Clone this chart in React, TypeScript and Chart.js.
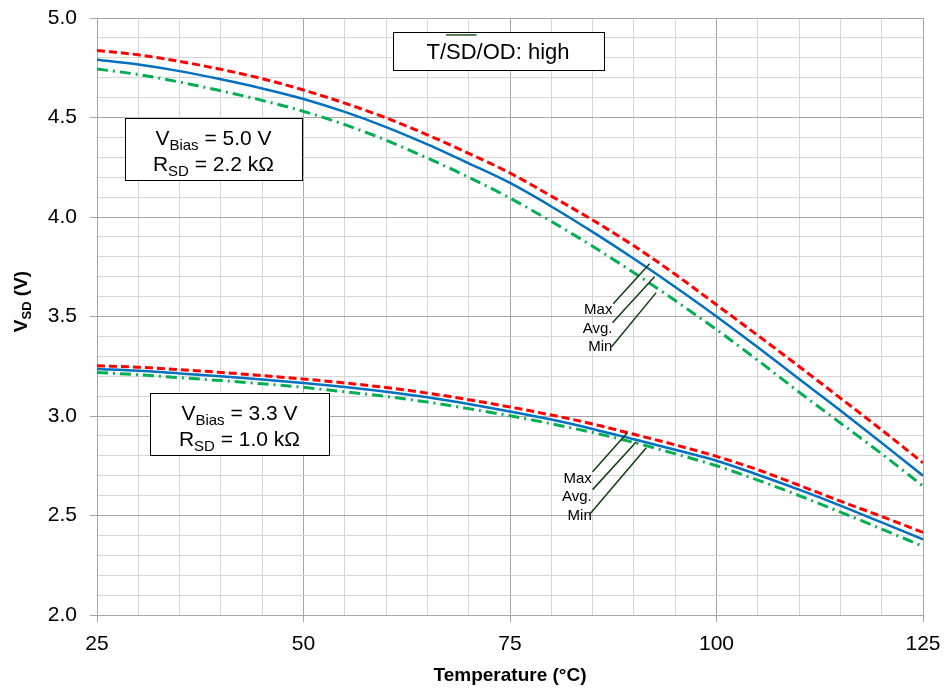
import React, { useEffect, useRef } from "react";
import { Chart, registerables } from "chart.js";

Chart.register(...registerables);

// ---- data ----
const temps = [25, 30, 35, 40, 45, 50, 55, 60, 65, 70, 75, 80, 85, 90, 95, 100, 105, 110, 115, 120, 125];

const max50 = [4.837, 4.815, 4.782, 4.742, 4.695, 4.638, 4.572, 4.498, 4.413, 4.32, 4.221, 4.105, 3.985, 3.855, 3.712, 3.559, 3.405, 3.249, 3.09, 2.93, 2.765];
const avg50 = [4.79, 4.766, 4.733, 4.692, 4.646, 4.593, 4.528, 4.452, 4.365, 4.27, 4.171, 4.053, 3.925, 3.79, 3.648, 3.5, 3.345, 3.186, 3.028, 2.865, 2.7];
const min50 = [4.744, 4.716, 4.678, 4.634, 4.586, 4.531, 4.464, 4.386, 4.296, 4.2, 4.095, 3.978, 3.853, 3.72, 3.58, 3.434, 3.28, 3.12, 2.965, 2.81, 2.648];

const max33 = [3.253, 3.245, 3.233, 3.219, 3.203, 3.186, 3.166, 3.143, 3.115, 3.082, 3.045, 3.005, 2.96, 2.908, 2.855, 2.797, 2.73, 2.652, 2.572, 2.495, 2.415];
const avg33 = [3.236, 3.227, 3.214, 3.2, 3.184, 3.166, 3.146, 3.122, 3.094, 3.06, 3.023, 2.982, 2.935, 2.883, 2.83, 2.775, 2.705, 2.63, 2.55, 2.465, 2.38];
const min33 = [3.219, 3.207, 3.193, 3.178, 3.162, 3.144, 3.122, 3.098, 3.07, 3.037, 3.001, 2.961, 2.917, 2.867, 2.81, 2.75, 2.678, 2.6, 2.517, 2.432, 2.345];

// axis
const xMin = 25, xMax = 125, xMinorStep = 5, xMajorStep = 25;
const yMin = 2.0, yMax = 5.0, yMinorStep = 0.1, yMajorStep = 0.5;

// annotations (data units)
const infoBoxes = [
  { x0: 28.4, x1: 49.8, y0: 4.499, lines: [["V", "Bias", " = 5.0 V"], ["R", "SD", " = 2.2 k\u03A9"]] },
  { x0: 31.4, x1: 53.1, y0: 3.117, lines: [["V", "Bias", " = 3.3 V"], ["R", "SD", " = 1.0 k\u03A9"]] },
];
const stateBox = { x0: 60.8, x1: 86.3, y0: 4.93, y1: 4.74, pre: "T/", over: "SD", post: "/OD: high" };

const calloutLabels = ["Max", "Avg.", "Min"];
const callout50 = {
  textX: 87.4,
  textY: [3.534, 3.439, 3.348],
  leaders: [
    [87.5, 3.564, 91.9, 3.765],
    [87.4, 3.469, 92.5, 3.7],
    [87.3, 3.348, 92.7, 3.62],
  ],
};
const callout33 = {
  textX: 84.9,
  textY: [2.685, 2.594, 2.499],
  leaders: [
    [85.0, 2.72, 89.2, 2.916],
    [85.0, 2.63, 90.3, 2.871],
    [84.6, 2.504, 91.5, 2.841],
  ],
};

const FONT = "'Liberation Sans', Arial, Helvetica, sans-serif";
const MAJOR = "#a6a6a6";
const MINOR = "#d6d6d6";
const RED = "#ff0000";
const BLUE = "#0070c0";
const GREEN = "#00b050";
const LEADER = "#0f3f0f";

const isMult = (v: number, step: number) => Math.abs(v / step - Math.round(v / step)) < 1e-6;

const annotPlugin = {
  id: "annot",
  afterDatasetsDraw(chart: any) {
    const ctx = chart.ctx as CanvasRenderingContext2D;
    const X = (v: number) => chart.scales.x.getPixelForValue(v);
    const Y = (v: number) => chart.scales.y.getPixelForValue(v);
    ctx.save();

    // info boxes
    for (const b of infoBoxes) {
      const left = X(b.x0), right = X(b.x1), top = Y(b.y0);
      const h = 62;
      ctx.fillStyle = "#fff";
      ctx.fillRect(left, top, right - left, h);
      ctx.strokeStyle = "#000";
      ctx.lineWidth = 1;
      ctx.strokeRect(Math.round(left) + 0.5, Math.round(top) + 0.5, Math.round(right - left), h);
      const cx = (left + right) / 2;
      b.lines.forEach((ln, i) => {
        const base = top + 27 + i * 26;
        const mainF = `21px ${FONT}`, subF = `15px ${FONT}`;
        ctx.font = mainF; const w1 = ctx.measureText(ln[0]).width; const w3 = ctx.measureText(ln[2]).width;
        ctx.font = subF; const w2 = ctx.measureText(ln[1]).width;
        let x = cx - (w1 + w2 + w3) / 2;
        ctx.fillStyle = "#000";
        ctx.textBaseline = "alphabetic";
        ctx.textAlign = "left";
        ctx.font = mainF; ctx.fillText(ln[0], x, base); x += w1;
        ctx.font = subF; ctx.fillText(ln[1], x, base + 5); x += w2;
        ctx.font = mainF; ctx.fillText(ln[2], x, base);
      });
    }

    // state box
    {
      const left = X(stateBox.x0), right = X(stateBox.x1), top = Y(stateBox.y0), bottom = Y(stateBox.y1);
      ctx.fillStyle = "#fff";
      ctx.fillRect(left, top, right - left, bottom - top);
      ctx.strokeStyle = "#000";
      ctx.lineWidth = 1;
      ctx.strokeRect(Math.round(left) + 0.5, Math.round(top) + 0.5, Math.round(right - left), Math.round(bottom - top));
      ctx.font = `22px ${FONT}`;
      const w1 = ctx.measureText(stateBox.pre).width;
      const w2 = ctx.measureText(stateBox.over).width;
      const w3 = ctx.measureText(stateBox.post).width;
      let x = (left + right) / 2 - (w1 + w2 + w3) / 2;
      const base = top + 27;
      ctx.fillStyle = "#000";
      ctx.textAlign = "left";
      ctx.textBaseline = "alphabetic";
      ctx.fillText(stateBox.pre, x, base);
      ctx.fillText(stateBox.over, x + w1, base);
      ctx.fillText(stateBox.post, x + w1 + w2, base);
      ctx.strokeStyle = "#1e5a1e";
      ctx.lineWidth = 1.5;
      ctx.beginPath();
      ctx.moveTo(x + w1, top + 3);
      ctx.lineTo(x + w1 + w2, top + 3);
      ctx.stroke();
    }

    // callouts
    for (const c of [callout50, callout33]) {
      ctx.font = `15px ${FONT}`;
      ctx.fillStyle = "#000";
      ctx.textAlign = "right";
      ctx.textBaseline = "middle";
      calloutLabels.forEach((t, i) => ctx.fillText(t, X(c.textX), Y(c.textY[i])));
      ctx.strokeStyle = LEADER;
      ctx.lineWidth = 1.5;
      for (const l of c.leaders) {
        ctx.beginPath();
        ctx.moveTo(X(l[0]), Y(l[1]));
        ctx.lineTo(X(l[2]), Y(l[3]));
        ctx.stroke();
      }
    }

    // axis titles
    const ca = chart.chartArea;
    ctx.fillStyle = "#000";
    ctx.textBaseline = "alphabetic";
    ctx.textAlign = "center";
    ctx.font = `bold 19px ${FONT}`;
    ctx.fillText("Temperature (\u00B0C)", (ca.left + ca.right) / 2, 681);

    ctx.save();
    ctx.translate(27, (ca.top + ca.bottom) / 2 - 15);
    ctx.rotate(-Math.PI / 2);
    const mF = `bold 19px ${FONT}`, sF = `bold 13px ${FONT}`;
    ctx.font = mF; const a = ctx.measureText("V").width; const c2 = ctx.measureText(" (V)").width;
    ctx.font = sF; const b2 = ctx.measureText("SD").width;
    let x = -(a + b2 + c2) / 2;
    ctx.textAlign = "left";
    ctx.font = mF; ctx.fillText("V", x, 0); x += a;
    ctx.font = sF; ctx.fillText("SD", x, 4); x += b2;
    ctx.font = mF; ctx.fillText(" (V)", x, 0);
    ctx.restore();

    ctx.restore();
  },
};

const mk = (label: string, arr: number[], color: string, width: number, dash: number[]) => ({
  label,
  data: temps.map((t, i) => ({ x: t, y: arr[i] })),
  borderColor: color,
  backgroundColor: color,
  borderWidth: width,
  borderDash: dash,
  pointRadius: 0,
  tension: 0.4,
  cubicInterpolationMode: "monotone" as const,
  fill: false,
});

export default function App() {
  const ref = useRef<HTMLCanvasElement>(null);
  useEffect(() => {
    if (!ref.current) return;
    const chart = new Chart(ref.current, {
      type: "line",
      data: {
        datasets: [
          mk("Min 5.0V", min50, GREEN, 3, [11, 5, 2, 5]),
          mk("Max 5.0V", max50, RED, 3, [8, 4]),
          mk("Avg 5.0V", avg50, BLUE, 2.5, []),
          mk("Min 3.3V", min33, GREEN, 3, [11, 5, 2, 5]),
          mk("Max 3.3V", max33, RED, 3, [8, 4]),
          mk("Avg 3.3V", avg33, BLUE, 2.5, []),
        ],
      },
      options: {
        responsive: false,
        animation: false,
        layout: { padding: { top: 18, right: 27, left: 0, bottom: 0 } },
        plugins: { legend: { display: false }, tooltip: { enabled: false }, title: { display: false } },
        scales: {
          x: {
            type: "linear",
            min: xMin,
            max: xMax,
            afterFit: (s: any) => { s.height = 76; s.paddingLeft = 0; s.paddingRight = 0; },
            ticks: {
              stepSize: xMinorStep,
              autoSkip: false,
              maxRotation: 0,
              color: "#000",
              padding: 10,
              font: { family: FONT, size: 21 },
              callback: (v: any) => (isMult(Number(v), xMajorStep) ? String(v) : ""),
            },
            grid: {
              color: (c: any) => (isMult(c.tick.value, xMajorStep) ? MAJOR : MINOR),
              tickColor: (c: any) => (isMult(c.tick.value, xMajorStep) ? MAJOR : "rgba(0,0,0,0)"),
              tickLength: 7,
              lineWidth: 1,
            },
            border: { color: MAJOR },
          },
          y: {
            type: "linear",
            min: yMin,
            max: yMax,
            afterFit: (s: any) => { s.width = 97; s.paddingTop = 0; s.paddingBottom = 0; },
            ticks: {
              stepSize: yMinorStep,
              autoSkip: false,
              color: "#000",
              padding: 13,
              font: { family: FONT, size: 21 },
              callback: (v: any) => (isMult(Number(v), yMajorStep) ? Number(v).toFixed(1) : ""),
            },
            grid: {
              color: (c: any) => (isMult(c.tick.value, yMajorStep) ? MAJOR : MINOR),
              tickColor: (c: any) => (isMult(c.tick.value, yMajorStep) ? MAJOR : "rgba(0,0,0,0)"),
              tickLength: 7,
              lineWidth: 1,
            },
            border: { color: MAJOR },
          },
        },
      },
      plugins: [annotPlugin],
    });
    return () => chart.destroy();
  }, []);
  return (
    <div style={{ position: "absolute", left: 0, top: 0, width: 950, height: 691, background: "#fff" }}>
      <canvas ref={ref} width={950} height={691} style={{ width: 950, height: 691, display: "block" }} />
    </div>
  );
}
